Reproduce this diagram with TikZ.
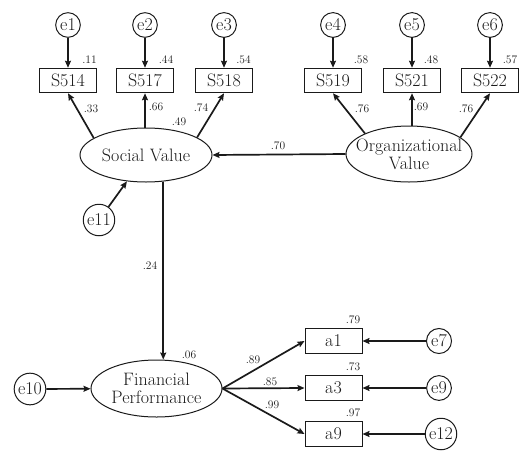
\documentclass[tikz,border=0pt]{standalone}
\usetikzlibrary{arrows.meta,shapes.geometric,calc}
\definecolor{ink}{HTML}{1A1A1A}
\begin{document}
\begin{tikzpicture}[x=1pt,y=-1pt,
  every node/.style={font=\fontsize{18}{18}\selectfont, text=ink},
  obs/.style={draw=ink, line width=1pt, minimum width=57pt, minimum height=24.5pt, inner sep=0pt},
  err/.style={draw=ink, circle, line width=1pt, inner sep=1.8pt},
  latent/.style={draw=ink, ellipse, line width=1pt, inner sep=0pt},
  caption/.style={align=center, inner sep=0pt},
  coef/.style={font=\fontsize{11.5}{12}\selectfont, inner sep=0pt},
  link/.style={draw=ink, line width=1.7pt, -{Stealth[length=7pt,width=6pt,inset=1pt]}},
]
\useasboundingbox (0,0) rectangle (519,453);

% latent variables
\node[latent, minimum width=132pt, minimum height=54pt] (sv) at (146,155) {};
\node[caption] (svt) at (sv) {Social Value};
\node[latent, minimum width=126pt, minimum height=56pt] (ov) at (409,154) {};
\node[caption] (ovt) at (ov) {Organizational\\Value};
\node[latent, minimum width=131pt, minimum height=57pt] (fp) at (156.5,388.5) {};
\node[caption] (fpt) at (fp) {Financial\\Performance};

% indicators
\node[obs] (s514) at (68,80.5) {S514};
\node[obs] (s517) at (145,80.5) {S517};
\node[obs] (s518) at (224,80.5) {S518};
\node[obs] (s519) at (333,80.5) {S519};
\node[obs] (s521) at (412,80.5) {S521};
\node[obs] (s522) at (490,80.5) {S522};
\node[obs] (a1) at (333.5,341) {a1};
\node[obs] (a3) at (333.5,388) {a3};
\node[obs] (a9) at (333.5,434) {a9};

% error terms
\node[err] (e1) at (68,25) {e1};
\node[err] (e2) at (145,25) {e2};
\node[err] (e3) at (224,25) {e3};
\node[err] (e4) at (333,25) {e4};
\node[err] (e5) at (412,25) {e5};
\node[err] (e6) at (490,25) {e6};
\node[err] (e7) at (439,341) {e7};
\node[err] (e9) at (439,388) {e9};
\node[err] (e12) at (441,434) {e12};
\node[err] (e10) at (30,389) {e10};
\node[err] (e11) at (99,220) {e11};

% error paths
\foreach \e/\v in {e1/s514,e2/s517,e3/s518,e4/s519,e5/s521,e6/s522,e7/a1,e9/a3,e12/a9,e10/fp,e11/sv}
  \draw[link] (\e) -- (\v);

% loadings
\draw[link] (sv.162) -- (s514.south);
\draw[link] (s517.south |- sv.north) -- (s517.south);
\draw[link] (sv.19) -- (s518.south);
\draw[link] (ov.155) -- (s519.south);
\draw[link] (s521.south |- ov.north) -- (s521.south);
\draw[link] (ov.18) -- (s522.south);
\draw[link] (fp.east) -- (a1.west);
\draw[link] (fp.east) -- (a3.west);
\draw[link] (fp.east) -- (a9.west);

% structural paths
\draw[link] (ov.west) -- (sv.east);
\draw[link] (sv.-57) -- (sv.-57 |- fp.north);

% coefficients
\node[coef] (c11) at (89.5,60) {.11};
\node[coef] (c44) at (166,60) {.44};
\node[coef] (c54) at (243.5,60) {.54};
\node[coef] (c58) at (361,60) {.58};
\node[coef] (c48) at (431,60) {.48};
\node[coef] (c57) at (510,60) {.57};
\node[coef] (c33) at (91,109) {.33};
\node[coef] (c66) at (156,107) {.66};
\node[coef] (c74) at (201,108) {.74};
\node[coef] (c49) at (179,122) {.49};
\node[coef] (c76a) at (362,109) {.76};
\node[coef] (c69) at (421,107) {.69};
\node[coef] (c76b) at (466,109) {.76};
\node[coef] (c70) at (278,146) {.70};
\node[coef] (c24) at (150,266) {.24};
\node[coef] (c06) at (189,355) {.06};
\node[coef] (c89) at (253,360) {.89};
\node[coef] (c85) at (270,382) {.85};
\node[coef] (c99) at (272,405) {.99};
\node[coef] (c79) at (353,320) {.79};
\node[coef] (c73) at (353,367) {.73};
\node[coef] (c97) at (353,413) {.97};
\end{tikzpicture}
\end{document}
